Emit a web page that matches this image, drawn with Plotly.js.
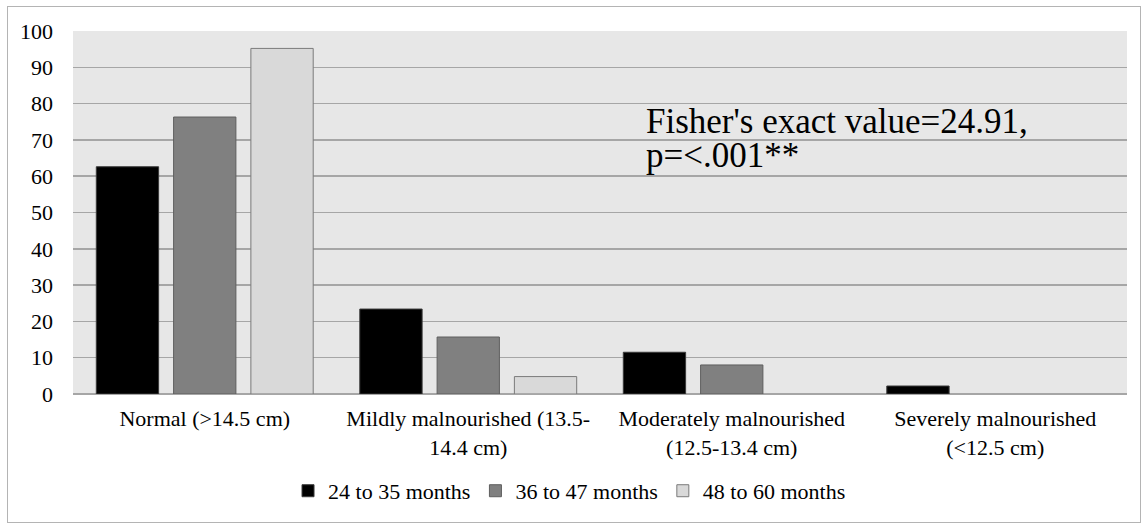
<!DOCTYPE html>
<html>
<head>
<meta charset="utf-8">
<script src="https://cdn.plot.ly/plotly-3.0.1.min.js"></script>
<style>
html,body{margin:0;padding:0;background:#fff;}
#chart{width:1142px;height:524px;position:absolute;left:0;top:0;}
#frame{position:absolute;left:7px;top:6px;width:1132px;height:515px;border:1px solid #b4b4b4;pointer-events:none;}
</style>
</head>
<body>
<div id="chart"></div>
<div id="frame"></div>
<script>
const categories = [
  "Normal (>14.5 cm)",
  "Mildly malnourished (13.5-<br>14.4 cm)",
  "Moderately malnourished<br>(12.5-13.4 cm)",
  "Severely malnourished<br>(<12.5 cm)"
];
const seriesNames = ["24 to 35 months", "36 to 47 months", "48 to 60 months"];
const months24to35 = [62.6, 23.4, 11.5, 2.2];
const months36to47 = [76.3, 15.7, 8.0, 0];
const months48to60 = [95.2, 4.8, 0, 0];
const yTicks = [0,10,20,30,40,50,60,70,80,90,100];
const noteLines = ["Fisher's exact value=24.91,", "p=<.001**"];

const fills = ["#000000", "#808080", "#d9d9d9"];
const edges = ["#3a3a3a", "#5e5e5e", "#7a7a7a"];
const values = [months24to35, months36to47, months48to60];
const font = "Liberation Serif";

const traces = values.map((v, i) => ({
  type: "bar",
  name: seriesNames[i],
  x: [0,1,2,3],
  y: v.map(d => d === 0 ? null : d),
  marker: {color: fills[i], line: {color: edges[i], width: 1}},
  hoverinfo: "none"
}));

const layout = {
  width: 1142, height: 524,
  margin: {l: 73, r: 15, t: 31, b: 130},
  paper_bgcolor: "#ffffff",
  plot_bgcolor: "#e7e7e7",
  barmode: "group",
  bargap: 0.12,
  bargroupgap: 0.194,
  font: {family: font, color: "#000", size: 22},
  xaxis: {
    range: [-0.5, 3.5],
    tickmode: "array",
    tickvals: [0,1,2,3],
    ticktext: categories,
    showgrid: false, zeroline: false, showline: false,
    ticks: "", ticklabelstandoff: 9,
    tickfont: {family: font, size: 22, color: "#000"},
    fixedrange: true
  },
  yaxis: {
    range: [0, 100],
    tickmode: "array",
    tickvals: yTicks,
    ticktext: yTicks.map(String),
    showgrid: true, gridcolor: "#a6a6a6", gridwidth: 1.5,
    zeroline: true, zerolinecolor: "#a6a6a6", zerolinewidth: 1.5,
    showline: false, ticks: "", ticklabelstandoff: 19,
    tickfont: {family: font, size: 22, color: "#000"},
    fixedrange: true
  },
  showlegend: true,
  legend: {
    orientation: "h",
    x: 0.204, xanchor: "left",
    y: -0.267, yanchor: "middle",
    font: {family: font, size: 22, color: "#000"},
    bgcolor: "rgba(0,0,0,0)",
    traceorder: "normal"
  },
  annotations: [
    {xref: "paper", yref: "y", x: 0.5415, y: 75.0, xanchor: "left", yanchor: "middle",
     text: noteLines[0], showarrow: false, font: {family: font, size: 35, color: "#000"}},
    {xref: "paper", yref: "y", x: 0.5415, y: 65.6, xanchor: "left", yanchor: "middle",
     text: noteLines[1], showarrow: false, font: {family: font, size: 35, color: "#000"}}
  ]
};

Plotly.newPlot("chart", traces, layout, {staticPlot: true, displayModeBar: false});
</script>
</body>
</html>
